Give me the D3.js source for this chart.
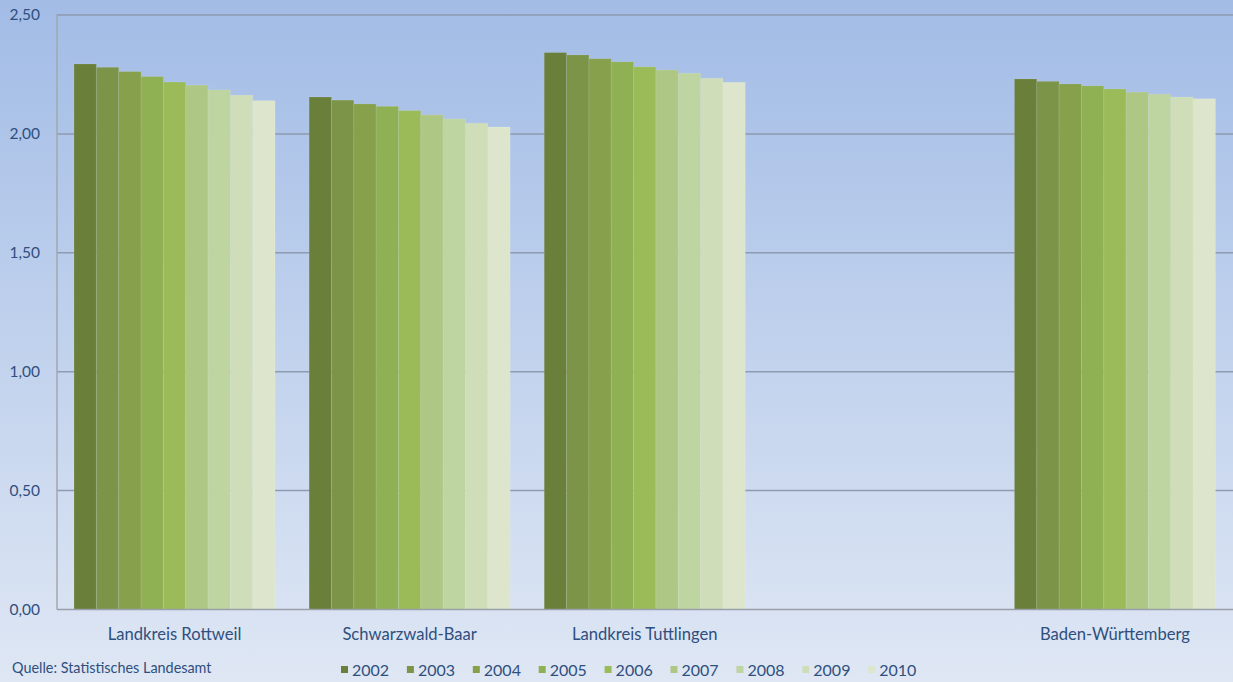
<!DOCTYPE html>
<html>
<head>
<meta charset="utf-8">
<script src="https://cdn.jsdelivr.net/npm/d3@7"></script>
<style>
  html, body { margin: 0; padding: 0; }
  body { width: 1233px; height: 682px; overflow: hidden; }
  svg text { font-family: Lato, "Liberation Sans", sans-serif; fill: #2f4f7e; }
</style>
</head>
<body>
<div id="chart"></div>
<script>
// data
const regions = ["Landkreis Rottweil", "Schwarzwald-Baar", "Landkreis Tuttlingen", "", "Baden-Württemberg"];
const years = ["2002", "2003", "2004", "2005", "2006", "2007", "2008", "2009", "2010"];
const rottweil    = [2.294, 2.280, 2.262, 2.241, 2.218, 2.205, 2.185, 2.163, 2.140];
const schwarzwald = [2.155, 2.142, 2.126, 2.116, 2.098, 2.080, 2.063, 2.045, 2.029];
const tuttlingen  = [2.342, 2.332, 2.316, 2.303, 2.282, 2.269, 2.255, 2.234, 2.217];
const empty       = [];
const bawue       = [2.231, 2.221, 2.210, 2.202, 2.189, 2.176, 2.167, 2.155, 2.148];
const yTicks = [0, 0.5, 1, 1.5, 2, 2.5];
const colors = ["#6a7f3a", "#7b9447", "#86a04c", "#8fb053", "#9bbb59", "#aec785", "#bed4a1", "#cfddb9", "#dde6cd"];

const seriesByRegion = [rottweil, schwarzwald, tuttlingen, empty, bawue];

const width = 1233, height = 682;
const margin = { left: 57, right: 1, top: 15, bottom: 72 };

const svg = d3.select("#chart").append("svg")
    .attr("width", width)
    .attr("height", height);

// background gradient
const grad = svg.append("defs").append("linearGradient")
    .attr("id", "bg").attr("x1", 0).attr("y1", 0).attr("x2", 0).attr("y2", 1);
grad.append("stop").attr("offset", "0%").attr("stop-color", "#a2bce6");
grad.append("stop").attr("offset", "100%").attr("stop-color", "#dfe7f4");
svg.append("rect").attr("width", width).attr("height", height).attr("fill", "url(#bg)");

// scales
const x0 = d3.scaleBand()
    .domain(d3.range(regions.length))
    .range([margin.left, width - margin.right + 0.5])
    .paddingInner(0.145)
    .paddingOuter(0.0725);
const x1 = d3.scaleBand()
    .domain(years)
    .range([0, x0.bandwidth()]);
const y = d3.scaleLinear()
    .domain([0, 2.5])
    .range([height - margin.bottom - 0.5, margin.top]);

// grid lines
svg.append("g")
    .selectAll("line")
    .data(yTicks.filter(t => t > 0))
    .join("line")
    .attr("x1", margin.left)
    .attr("x2", width)
    .attr("y1", d => y(d))
    .attr("y2", d => y(d))
    .attr("stroke", "#8e9aaf")
    .attr("stroke-width", 1.5);

// y axis labels
const fmt = d3.format(".2f");
svg.append("g")
    .selectAll("text")
    .data(yTicks)
    .join("text")
    .attr("x", 40)
    .attr("y", d => y(d))
    .attr("dy", "0.35em")
    .attr("text-anchor", "end")
    .attr("font-size", 15.5)
    .text(d => fmt(d).replace(".", ","));

// bars
const groups = svg.append("g")
    .selectAll("g")
    .data(seriesByRegion)
    .join("g")
    .attr("transform", (d, i) => "translate(" + x0(i) + ",0)");

groups.selectAll("rect")
    .data(d => d.map((v, j) => ({ year: years[j], value: v, color: colors[j] })))
    .join("rect")
    .attr("x", d => x1(d.year))
    .attr("width", x1.bandwidth())
    .attr("y", d => y(d.value))
    .attr("height", d => y(0) - y(d.value))
    .attr("fill", d => d.color)
    .attr("stroke", "rgba(255,255,255,0.1)")
    .attr("stroke-width", 1);

// axis lines
svg.append("line")
    .attr("x1", margin.left).attr("x2", margin.left)
    .attr("y1", margin.top - 1).attr("y2", y(0))
    .attr("stroke", "#a3a7ae").attr("stroke-width", 1.5);
svg.append("line")
    .attr("x1", margin.left).attr("x2", width)
    .attr("y1", y(0)).attr("y2", y(0))
    .attr("stroke", "#9aa0aa").attr("stroke-width", 1.5);

// category labels
svg.append("g")
    .selectAll("text")
    .data(regions)
    .join("text")
    .attr("x", (d, i) => x0(i) + x0.bandwidth() / 2)
    .attr("y", 634)
    .attr("dy", "0.35em")
    .attr("text-anchor", "middle")
    .attr("font-size", 16.6)
    .text(d => d);

// source
svg.append("text")
    .attr("x", 12)
    .attr("y", 668)
    .attr("dy", "0.35em")
    .attr("font-size", 14.4)
    .text("Quelle: Statistisches Landesamt");

// legend
const legend = svg.append("g")
    .selectAll("g")
    .data(years)
    .join("g")
    .attr("transform", (d, i) => "translate(" + (341 + i * 65.9) + ",670)");
legend.append("rect")
    .attr("x", 0).attr("y", -4)
    .attr("width", 7).attr("height", 7)
    .attr("fill", (d, i) => colors[i]);
legend.append("text")
    .attr("x", 11)
    .attr("y", 0)
    .attr("dy", "0.35em")
    .attr("font-size", 16)
    .text(d => d);
</script>
</body>
</html>
